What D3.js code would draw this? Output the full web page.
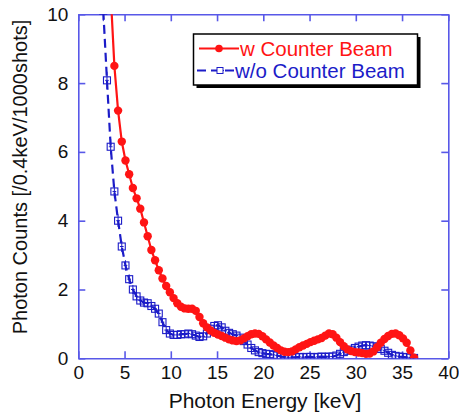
<!DOCTYPE html>
<html>
<head>
<meta charset="utf-8">
<script src="https://cdn.jsdelivr.net/npm/d3@7"></script>
<style>
  body { margin: 0; background: #fff; }
  svg { display: block; font-family: "Liberation Sans", Arial, Helvetica, sans-serif; }
</style>
</head>
<body>
<svg id="chart" width="459" height="418"></svg>
<script>
// ---- data ----
const energy = [2.7,3.1,3.5,3.9,4.3,4.7,5.1,5.5,5.9,6.3,6.7,7.1,7.5,7.9,8.3,8.7,9.1,9.5,9.9,10.3,
  10.7,11.1,11.5,11.9,12.3,12.7,13.1,13.5,13.9,14.3,14.7,15.1,15.5,15.9,16.3,16.7,17.1,17.5,17.9,18.3,
  18.7,19.1,19.5,19.9,20.3,20.7,21.1,21.5,21.9,22.3,22.7,23.1,23.5,23.9,24.3,24.7,25.1,25.5,25.9,26.3,
  26.7,27.1,27.5,27.9,28.3,28.7,29.1,29.5,29.9,30.3,30.7,31.1,31.5,31.9,32.3,32.7,33.1,33.5,33.9,34.3,
  34.7,35.1,35.5,35.9,36.3];

const withBeam = [null,null,10.6,8.5,7.2,6.3,5.75,5.35,4.95,4.65,4.35,3.95,3.55,3.15,2.85,2.56,2.32,2.1,1.92,1.75,
  1.6,1.5,1.45,1.44,1.44,1.38,1.2,1.02,0.9,0.81,0.74,0.69,0.65,0.6,0.55,0.52,0.5,0.52,0.58,0.64,
  0.7,0.72,0.71,0.64,0.55,0.46,0.37,0.3,0.23,0.19,0.18,0.2,0.26,0.32,0.37,0.42,0.47,0.51,0.55,0.59,
  0.66,0.72,0.7,0.6,0.47,0.35,0.26,0.21,0.18,0.17,0.15,0.13,0.14,0.2,0.32,0.45,0.56,0.65,0.71,0.72,
  0.67,0.58,0.45,0.23,0.02];

const withoutBeam = [10.1,8.08,6.15,4.85,4.0,3.25,2.7,2.3,2.0,1.8,1.68,1.62,1.6,1.52,1.44,1.3,1.05,0.82,0.72,0.68,
  0.68,0.7,0.7,0.72,0.7,0.66,0.62,0.64,0.72,0.86,0.94,0.96,0.9,0.8,0.74,0.7,0.66,0.6,0.5,0.4,
  0.3,0.23,0.18,0.15,0.13,0.12,0.1,0.08,0.05,0.04,0.03,0.03,0.03,0.04,0.03,0.04,0.04,0.03,0.04,0.05,
  0.04,0.05,0.05,0.08,0.13,0.18,0.22,0.25,0.3,0.34,0.37,0.38,0.37,0.35,0.32,0.27,0.22,0.16,0.1,0.07,
  0.05,0.04,0.03,0.02,0.01];

const withoutErr = [0.3,0.25,0.22,0.2,0.18,0.16,0.15,0.14,0.13,0.12,0.12,0.12,0.12,0.11,0.11,0.11,0.1,0.1,0.09,0.09,
  0.09,0.09,0.09,0.09,0.09,0.09,0.09,0.09,0.09,0.1,0.1,0.1,0.1,0.09,0.09,0.09,0.09,0.08,0.08,0.07,
  0.07,0.06,0.06,0.05,0.05,0.05,0.05,0.04,0.04,0.04,0.03,0.03,0.03,0.03,0.03,0.03,0.03,0.03,0.03,0.03,
  0.03,0.03,0.03,0.04,0.05,0.05,0.06,0.06,0.07,0.07,0.07,0.07,0.07,0.07,0.07,0.06,0.06,0.05,0.04,0.04,
  0.03,0.03,0.03,0.02,0.02];

const xTicks = [0,5,10,15,20,25,30,35,40];
const yTicks = [0,2,4,6,8,10];
const seriesNames = ["w Counter Beam", "w/o Counter Beam"];
const xTitle = "Photon Energy [keV]";
const yTitle = "Photon Counts [/0.4keV/1000shots]";

// ---- layout ----
const svg = d3.select("#chart");
const L = 78.3, R = 448.3, T = 14.3, B = 358.3;
const x = d3.scaleLinear().domain([0, 40]).range([L, R]);
const y = d3.scaleLinear().domain([0, 10]).range([B, T]);

const axisColor = "#5858e8";
const red = "#ff1414";
const blue = "#1c1cc8";

svg.append("defs").append("clipPath").attr("id", "plotclip")
  .append("rect").attr("x", L).attr("y", T).attr("width", R - L).attr("height", B - T);

// ---- axes ----
function styleAxis(g) {
  g.selectAll(".domain").attr("stroke", axisColor).attr("stroke-width", 1.6);
  g.selectAll(".tick line").attr("stroke", axisColor).attr("stroke-width", 1.6);
  g.selectAll(".tick text").attr("fill", "#111").attr("font-size", 19)
    .attr("font-family", '"Liberation Sans", Arial, sans-serif');
}
const tl = 7;
const gxB = svg.append("g").attr("transform", `translate(0,${B})`)
  .call(d3.axisBottom(x).tickValues(xTicks).tickSizeInner(-tl).tickSizeOuter(0).tickPadding(5).tickFormat(d3.format("d")));
styleAxis(gxB);
gxB.selectAll(".tick text").attr("dy", "0.85em");
const gxT = svg.append("g").attr("transform", `translate(0,${T})`)
  .call(d3.axisTop(x).tickValues(xTicks).tickSizeInner(-tl).tickSizeOuter(0).tickFormat(""));
styleAxis(gxT);
const gyL = svg.append("g").attr("transform", `translate(${L},0)`)
  .call(d3.axisLeft(y).tickValues(yTicks).tickSizeInner(-tl).tickSizeOuter(0).tickPadding(10).tickFormat(d3.format("d")));
styleAxis(gyL);
const gyR = svg.append("g").attr("transform", `translate(${R},0)`)
  .call(d3.axisRight(y).tickValues(yTicks).tickSizeInner(-tl).tickSizeOuter(0).tickFormat(""));
styleAxis(gyR);

// ---- titles ----
svg.append("text").attr("x", 265).attr("y", 408).attr("text-anchor", "middle")
  .attr("font-size", 21).attr("fill", "#111").text(xTitle);
svg.append("text").attr("transform", "translate(27,177) rotate(-90)").attr("text-anchor", "middle")
  .attr("font-size", 20).attr("fill", "#111").text(yTitle);

// ---- data marks ----
const plot = svg.append("g").attr("clip-path", "url(#plotclip)");

const redData = energy.map((e, i) => ({ e, v: withBeam[i] })).filter(d => d.v !== null);
const blueData = energy.map((e, i) => ({ e, v: withoutBeam[i], err: withoutErr[i] }));

const line = d3.line().x(d => x(d.e)).y(d => y(d.v));

// blue series
plot.append("path").datum(blueData).attr("d", line)
  .attr("fill", "none").attr("stroke", blue).attr("stroke-width", 2.2).attr("stroke-dasharray", "9,5");
const eb = plot.append("g").attr("stroke", blue).attr("stroke-width", 1);
eb.selectAll(".ev").data(blueData).join("line")
  .attr("x1", d => x(d.e)).attr("x2", d => x(d.e))
  .attr("y1", d => y(d.v + d.err)).attr("y2", d => y(d.v - d.err));
eb.selectAll(".eh").data(blueData).join("line")
  .attr("x1", d => x(d.e - 0.2)).attr("x2", d => x(d.e + 0.2))
  .attr("y1", d => y(d.v)).attr("y2", d => y(d.v));
const sq = 7;
plot.append("g").selectAll("rect").data(blueData).join("rect")
  .attr("x", d => x(d.e) - sq / 2).attr("y", d => y(d.v) - sq / 2)
  .attr("width", sq).attr("height", sq)
  .attr("fill", "none").attr("stroke", blue).attr("stroke-width", 1.1);

// red series
plot.append("path").datum(redData).attr("d", line)
  .attr("fill", "none").attr("stroke", red).attr("stroke-width", 2.2);
plot.append("g").selectAll("circle").data(redData).join("circle")
  .attr("cx", d => x(d.e)).attr("cy", d => y(d.v)).attr("r", 4.2).attr("fill", red);

// ---- legend ----
const lg = svg.append("g");
const lx = 193.5, ly = 34, lw = 224, lh = 51;
lg.append("rect").attr("x", lx + 3).attr("y", ly + 3).attr("width", lw).attr("height", lh).attr("fill", "#000");
lg.append("rect").attr("x", lx).attr("y", ly).attr("width", lw).attr("height", lh)
  .attr("fill", "#fff").attr("stroke", "#000").attr("stroke-width", 1.5);
// row 1
lg.append("line").attr("x1", 199).attr("x2", 239).attr("y1", 48.5).attr("y2", 48.5)
  .attr("stroke", red).attr("stroke-width", 2.2);
lg.append("circle").attr("cx", 219).attr("cy", 48.5).attr("r", 3.8).attr("fill", red);
lg.append("text").attr("x", 240).attr("y", 56).attr("font-size", 20.5).attr("fill", red).text(seriesNames[0]);
// row 2
lg.append("line").attr("x1", 197).attr("x2", 234).attr("y1", 70.5).attr("y2", 70.5)
  .attr("stroke", blue).attr("stroke-width", 2.2).attr("stroke-dasharray", "9,5");
lg.append("line").attr("x1", 216).attr("x2", 224).attr("y1", 70.5).attr("y2", 70.5)
  .attr("stroke", blue).attr("stroke-width", 1);
lg.append("rect").attr("x", 217).attr("y", 67.5).attr("width", 6).attr("height", 6)
  .attr("fill", "#fff").attr("stroke", blue).attr("stroke-width", 1);
lg.append("text").attr("x", 235).attr("y", 78).attr("font-size", 20.5).attr("fill", blue).text(seriesNames[1]);
</script>
</body>
</html>
